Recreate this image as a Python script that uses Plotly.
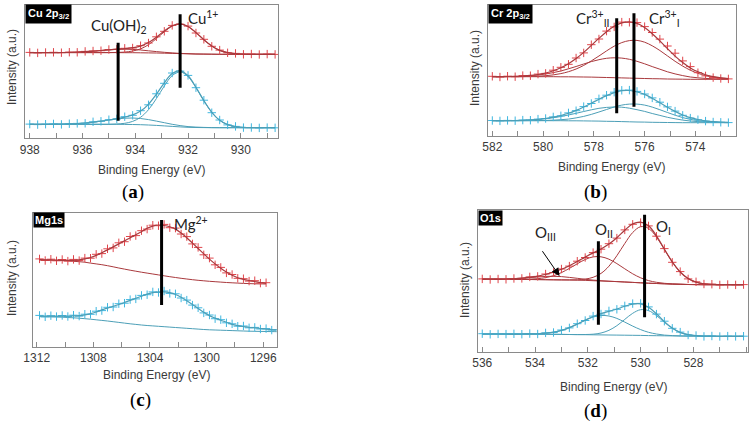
import numpy as np
import plotly.graph_objects as go

W, H = 755, 423

# ---------------- (a) Cu 2p3/2 ----------------
CU_BE = [938.0, 937.7, 937.4, 937.1, 936.8, 936.5, 936.2, 935.9, 935.6, 935.3, 935.0,
         934.7, 934.4, 934.1, 933.8, 933.5, 933.2, 932.9, 932.6, 932.3, 932.0, 931.7,
         931.4, 931.1, 930.8, 930.5, 930.2, 929.9, 929.6, 929.3, 929.0, 928.7]
CU_RED_DATA = [85.9, 85.4, 85.8, 86.0, 85.6, 86.1, 86.0, 86.9, 87.3, 87.6, 88.8, 89.0, 90.0,
               90.3, 92.6, 95.3, 101.5, 107.0, 112.9, 114.1, 112.2, 105.3, 99.0, 92.0, 88.2,
               85.5, 84.9, 84.0, 84.3, 83.8, 84.2, 83.9]
CU_RED_FIT = [85.7, 85.7, 85.7, 85.7, 85.8, 85.9, 86.2, 86.6, 87.1, 87.8, 88.5, 89.2, 89.7,
              90.6, 92.2, 95.7, 101.1, 107.4, 112.6, 114.4, 111.8, 105.7, 98.6, 92.3, 87.9,
              85.7, 84.6, 84.2, 84.0, 84.0, 84.0, 84.0]
CU_RED_BG = [85.7] * 11 + [85.7, 85.6, 85.6, 85.5, 85.4, 85.3, 85.1, 84.9, 84.7, 84.5, 84.3,
                          84.2, 84.1] + [84.0] * 8
CU_RED_CU1 = [0] * 11 + [0.2, 0.6, 1.7, 3.9, 8.2, 14.4, 21.4, 27.2, 29.5, 27.2, 21.4, 14.4,
                         8.2, 3.9, 1.7, 0.6, 0.2, 0, 0, 0, 0]
CU_RED_OH = [0, 0, 0, 0, 0.1, 0.2, 0.5, 0.9, 1.4, 2.1, 2.8, 3.3, 3.5, 3.3, 2.8, 2.1, 1.4, 0.9,
             0.5, 0.2, 0.1] + [0] * 11
CU_BLUE_DATA = [14.2, 13.7, 14.1, 14.4, 13.9, 14.6, 14.9, 15.0, 16.5, 17.0, 18.6, 19.4, 21.6,
                23.0, 27.6, 33.5, 44.5, 55.0, 65.3, 67.2, 62.9, 50.6, 38.1, 25.6, 18.3, 13.4,
                11.9, 10.7, 10.8, 10.4, 10.7, 10.5]
CU_BLUE_FIT = [14.0, 14.0, 14.0, 14.1, 14.2, 14.4, 14.7, 15.3, 16.1, 17.2, 18.3, 19.7, 21.2,
               23.4, 27.2, 34.0, 44.0, 55.5, 64.8, 67.7, 62.5, 51.1, 37.7, 26.0, 18.0, 13.7,
               11.7, 10.9, 10.6, 10.6, 10.6, 10.6]
CU_BLUE_BG = [14.0] * 12 + [13.9, 13.8, 13.6, 13.3, 12.9, 12.4, 11.9, 11.4, 11.0, 10.8,
                           10.7] + [10.6] * 9
CU_BLUE_CU1 = [0] * 11 + [0.3, 1.1, 3.1, 7.4, 15.3, 26.8, 39.9, 50.8, 55.0, 50.8, 39.9, 26.8,
                          15.3, 7.4, 3.1, 1.1, 0.3, 0, 0, 0, 0]
CU_BLUE_OH = [0, 0, 0, 0.1, 0.2, 0.4, 0.7, 1.3, 2.1, 3.2, 4.3, 5.4, 6.2, 6.5, 6.2, 5.4, 4.3,
              3.2, 2.1, 1.3, 0.7, 0.4, 0.2, 0.1] + [0] * 8
CU_MARK_BE = [934.65, 932.3]
CU_MARK_LO = [17.6, 50.6]
CU_MARK_HI = [95.6, 124.0]

# ---------------- (b) Cr 2p3/2 ----------------
CR_BE = [582.0, 581.7, 581.4, 581.1, 580.8, 580.5, 580.2, 579.9, 579.6, 579.3, 579.0, 578.7,
         578.4, 578.1, 577.8, 577.5, 577.2, 576.9, 576.6, 576.3, 576.0, 575.7, 575.4, 575.1,
         574.8, 574.5, 574.2, 573.9, 573.6, 573.3, 573.0, 572.7]
CR_RED_DATA = [59.2, 58.5, 59.3, 58.8, 59.9, 59.8, 61.4, 62.1, 65.3, 68.2, 71.2, 77.5, 82.6,
               90.8, 96.5, 104.4, 108.6, 113.4, 113.2, 112.9, 108.9, 103.0, 96.4, 89.5, 82.3,
               74.6, 68.9, 62.8, 59.6, 57.9, 57.0, 56.6]
CR_RED_FIT = [58.8, 58.9, 59.0, 59.1, 59.5, 60.1, 61.0, 62.5, 64.7, 67.7, 71.8, 76.9, 83.1,
              90.1, 97.1, 103.8, 109.2, 112.7, 113.7, 112.1, 108.0, 101.8, 94.6, 86.8, 79.4,
              73.0, 67.6, 63.7, 60.8, 58.9, 57.7, 57.0]
CR_RED_BG = [58.8] * 9 + [58.7, 58.7, 58.6, 58.5, 58.4, 58.2, 58.0, 57.8, 57.6, 57.4, 57.2,
                         57.0, 56.8, 56.7, 56.5, 56.4, 56.3] + [56.2] * 6
CR_RED_I = [0, 0, 0, 0, 0.1, 0.3, 0.5, 1.0, 1.8, 3.2, 5.1, 7.9, 11.6, 16.2, 21.3, 26.6, 31.5,
            35.3, 37.5, 37.9, 36.3, 32.9, 28.3, 23.1, 17.8, 13.1, 9.1, 6.0, 3.7, 2.2, 1.2, 0.7]
CR_RED_II = [0, 0.1, 0.2, 0.3, 0.6, 1.0, 1.7, 2.7, 4.1, 5.8, 8.0, 10.4, 13.0, 15.5, 17.6, 19.2,
             19.9, 19.8, 18.8, 17.0, 14.7, 12.1, 9.6, 7.2, 5.2, 3.6, 2.3, 1.5, 0.9, 0.5, 0.3, 0.1]
CR_BLUE_DATA = [15.0, 14.6, 15.1, 14.8, 15.4, 15.3, 16.4, 17.0, 18.6, 19.7, 22.6, 24.8, 28.9,
                32.0, 36.7, 40.3, 43.3, 45.2, 45.4, 44.1, 41.5, 37.6, 33.3, 28.6, 24.4, 20.2,
                17.4, 15.8, 14.4, 13.5, 13.2, 12.9]
CR_BLUE_FIT = [14.8, 14.9, 14.9, 15.0, 15.2, 15.6, 16.1, 17.1, 18.3, 20.0, 22.2, 25.1, 28.5,
               32.3, 36.3, 39.9, 42.9, 44.8, 45.0, 43.7, 41.1, 37.2, 32.8, 28.2, 24.1, 20.5,
               17.8, 16.0, 14.7, 13.8, 13.3, 13.1]
CR_BLUE_BG = [14.8] * 10 + [14.7, 14.7, 14.6, 14.5, 14.4, 14.2, 14.1, 13.9, 13.7, 13.5, 13.4,
                           13.2, 13.1, 13.0, 12.9] + [12.8] * 7
CR_BLUE_I = [0, 0, 0, 0, 0, 0.1, 0.1, 0.3, 0.5, 1.0, 1.7, 2.9, 4.5, 6.6, 9.1, 11.8, 14.4, 16.5,
             17.7, 17.9, 17.0, 15.2, 12.7, 10.0, 7.4, 5.1, 3.3, 2.1, 1.2, 0.6, 0.3, 0.2]
CR_BLUE_II = [0, 0.1, 0.1, 0.2, 0.4, 0.7, 1.2, 2.0, 3.0, 4.2, 5.8, 7.5, 9.4, 11.2, 12.8, 13.9,
              14.4, 14.4, 13.6, 12.3, 10.7, 8.8, 7.0, 5.2, 3.8, 2.6, 1.7, 1.1, 0.7, 0.4, 0.2, 0.1]
CR_MARK_BE = [577.1, 576.42]
CR_MARK_LO = [22.2, 28.8]
CR_MARK_HI = [117.2, 122.2]

# ---------------- (c) Mg1s ----------------
MG_BE = [1311.8, 1311.4, 1311.0, 1310.6, 1310.2, 1309.8, 1309.4, 1309.0, 1308.6, 1308.2,
         1307.8, 1307.4, 1307.0, 1306.6, 1306.2, 1305.8, 1305.4, 1305.0, 1304.6, 1304.2,
         1303.8, 1303.4, 1303.0, 1302.6, 1302.2, 1301.8, 1301.4, 1301.0, 1300.6, 1300.2,
         1299.8, 1299.4, 1299.0, 1298.6, 1298.2, 1297.8, 1297.4, 1297.0, 1296.6, 1296.2,
         1295.8, 1295.4, 1295.0]
MG_RED_DATA = [87.8, 86.2, 87.5, 85.9, 87.2, 85.6, 87.3, 86.1, 88.6, 88.5, 92.4, 93.1, 97.9,
               98.8, 103.9, 105.0, 110.2, 111.1, 116.0, 117.6, 121.5, 121.0, 122.3, 119.0,
               118.6, 112.7, 110.1, 102.8, 99.3, 91.9, 88.6, 81.9, 79.3, 73.8, 72.2, 68.4,
               68.0, 65.6, 66.0, 63.6, 64.0]
MG_RED_FIT = [87.0, 86.9, 86.8, 86.6, 86.4, 86.3, 86.4, 86.9, 87.8, 89.2, 91.3, 94.0, 96.8,
              99.8, 102.8, 105.8, 109.0, 112.0, 115.0, 118.4, 120.6, 121.7, 121.2, 119.9,
              117.6, 113.6, 109.0, 103.6, 98.2, 92.8, 87.6, 82.8, 78.4, 74.6, 71.4, 69.0,
              67.4, 66.2, 65.2, 64.2, 63.4]
MG_RED_BG = [86.7, 86.6, 86.5, 86.3, 86.1, 85.8, 85.4, 85.0, 84.5, 83.6, 82.8, 82.0, 81.0,
             79.9, 78.7, 77.6, 76.5, 75.5, 74.5, 73.6, 72.7, 71.8, 70.9, 70.0, 69.2, 68.4,
             67.7, 67.0, 66.4, 65.9, 65.4, 65.0, 64.6, 64.2, 63.9, 63.6, 63.3, 63.1, 62.9,
             62.8, 62.7]
MG_BLUE_DATA = [31.3, 29.9, 31.0, 30.1, 31.2, 30.2, 31.5, 30.6, 32.5, 32.4, 35.5, 36.1, 39.4,
                39.7, 43.0, 43.5, 47.1, 47.8, 51.3, 52.0, 54.8, 54.2, 55.7, 53.3, 52.9, 48.7,
                46.6, 41.6, 38.9, 33.8, 31.7, 28.0, 27.0, 23.9, 22.9, 20.5, 20.7, 18.9, 19.3,
                17.7, 18.1, 16.6, 17.0]
MG_BLUE_FIT = [30.6, 30.6, 30.6, 30.6, 30.6, 30.7, 30.8, 31.1, 31.8, 33.0, 34.7, 36.8, 38.6,
               40.4, 42.2, 44.2, 46.3, 48.4, 50.5, 52.6, 54.0, 54.8, 54.9, 54.0, 52.2, 49.4,
               46.0, 42.3, 38.3, 34.4, 31.1, 28.6, 26.4, 24.5, 22.3, 21.0, 20.1, 19.4, 18.8,
               18.2, 17.6, 17.1, 16.7]
MG_BLUE_BG = [30.0, 29.9, 29.8, 29.7, 29.5, 29.2, 28.9, 28.5, 28.0, 27.5, 26.9, 26.3, 25.7,
              25.0, 24.3, 23.6, 22.9, 22.3, 21.7, 21.2, 20.8, 20.4, 20.0, 19.6, 19.2, 18.8,
              18.4, 18.0, 17.6, 17.2, 16.9, 16.7, 16.5, 16.3, 16.1, 15.9, 15.7, 15.5, 15.4,
              15.3, 15.2, 15.1, 15.0]
MG_MARK_BE = [1303.18]
MG_MARK_LO = [41.7]
MG_MARK_HI = [126.7]

# ---------------- (d) O1s ----------------
O_BE = [536.0, 535.7, 535.4, 535.1, 534.8, 534.5, 534.2, 533.9, 533.6, 533.3, 533.0, 532.7,
        532.4, 532.1, 531.8, 531.5, 531.2, 530.9, 530.6, 530.3, 530.0, 529.7, 529.4, 529.1,
        528.8, 528.5, 528.2, 527.9, 527.6, 527.3, 527.0, 526.7, 526.4, 526.1]
O_RED_DATA = [72.6, 72.0, 72.5, 72.2, 73.0, 73.1, 74.6, 75.1, 77.5, 79.0, 82.5, 85.4, 90.3,
              94.0, 98.9, 102.3, 107.8, 113.4, 121.6, 127.2, 128.9, 125.6, 115.3, 102.9, 89.2,
              79.9, 72.6, 69.7, 67.5, 67.3, 66.6, 67.0, 66.6, 66.9]
O_RED_FIT = [72.3, 72.3, 72.3, 72.5, 72.7, 73.3, 74.3, 75.4, 77.2, 79.3, 82.2, 85.8, 90.0,
             94.4, 98.6, 102.6, 107.5, 113.8, 121.2, 127.6, 129.3, 125.7, 115.7, 102.5, 89.6,
             79.5, 72.9, 69.4, 67.7, 67.1, 66.9, 66.8, 66.8, 66.8]
O_RED_BG = [72.3, 72.3, 72.2, 72.2, 72.1, 72.1, 72.0, 71.9, 71.8, 71.7, 71.6, 71.5, 71.3,
            71.1, 70.8, 70.5, 70.2, 69.9, 69.5, 69.1, 68.7, 68.3, 68.0, 67.7, 67.4, 67.2,
            67.0, 66.9, 66.8, 66.8, 66.8, 66.8, 66.8, 66.8]
O_RED_I = [0] * 11 + [0.1, 0.4, 1.3, 3.4, 7.6, 15.1, 25.9, 38.5, 49.9, 56.1, 54.8, 46.5, 34.3,
                      22.0, 12.2, 5.9, 2.5, 0.9, 0.3, 0.1, 0, 0, 0]
O_RED_II = [0, 0, 0, 0, 0, 0.1, 0.4, 0.9, 2.1, 4.1, 7.3, 11.6, 16.4, 20.9, 23.8, 24.2, 22.1,
            18.0, 13.2, 8.6, 5.0, 2.6, 1.2, 0.5, 0.2, 0.1] + [0] * 8
O_RED_III = [0, 0, 0.1, 0.3, 0.6, 1.1, 1.9, 2.6, 3.3, 3.5, 3.3, 2.6, 1.9, 1.1, 0.6, 0.3,
             0.1] + [0] * 17
O_BLUE_DATA = [17.8, 17.2, 17.6, 17.4, 17.7, 17.3, 17.9, 17.5, 18.6, 19.0, 21.5, 23.6, 27.8,
               31.0, 35.4, 37.5, 40.6, 42.2, 45.6, 47.9, 48.1, 44.6, 37.4, 30.3, 23.2, 19.4,
               16.5, 16.0, 15.1, 15.5, 15.0, 15.4, 15.1, 15.3]
O_BLUE_FIT = [17.5, 17.5, 17.5, 17.5, 17.4, 17.5, 17.6, 17.7, 18.3, 19.3, 21.1, 23.9, 27.4,
              31.4, 35.0, 37.9, 40.2, 42.5, 45.2, 47.4, 47.6, 44.2, 37.7, 29.9, 23.5, 19.1,
              16.8, 15.8, 15.4, 15.3, 15.2, 15.2, 15.2, 15.2]
O_BLUE_BG = [17.5, 17.5, 17.5, 17.5, 17.4, 17.4, 17.4, 17.3, 17.3, 17.2, 17.1, 17.0, 16.9,
             16.8, 16.7, 16.6, 16.5, 16.4, 16.3, 16.2, 16.1, 15.9, 15.8, 15.7, 15.6, 15.5,
             15.4, 15.4, 15.3, 15.3, 15.2, 15.2, 15.2, 15.2]
O_BLUE_I = [0] * 13 + [0.2, 0.6, 1.9, 4.7, 9.4, 15.8, 22.0, 25.7, 25.0, 20.2, 13.5, 7.6, 3.5,
                       1.4, 0.4, 0.1, 0, 0, 0, 0, 0]
O_BLUE_II = [0, 0, 0, 0, 0, 0.1, 0.2, 0.4, 1.0, 2.1, 4.0, 6.9, 10.5, 14.4, 17.7, 19.4, 19.0,
             16.7, 13.1, 9.2, 5.8, 3.3, 1.7, 0.7, 0.3, 0.1] + [0] * 8
O_MARK_BE = [531.6, 529.85]
O_MARK_LO = [26.8, 34.2]
O_MARK_HI = [110.2, 136.8]

RED_PTS, RED_LINE = "#e0454b", "#a9393d"
BLUE_PTS, BLUE_LINE = "#3fb7e0", "#4c9fb7"
FRAME = "#8a8a8a"
TXT = "#3a3a3a"


def px_x(p):
    return p / W


def px_y(p):
    return 1 - p / H


fig = go.Figure()


def add_spectrum(n, be, data, fit, bg, comps, pts_color, line_color):
    xa, ya = f"x{n}", f"y{n}"
    be = np.array(be)
    bg = np.array(bg)
    k = len(bg)
    for comp in comps:
        fig.add_trace(go.Scatter(x=be[:k], y=bg + np.array(comp), mode="lines",
                                 line=dict(color=line_color, width=1, shape="spline"),
                                 xaxis=xa, yaxis=ya, showlegend=False))
    fig.add_trace(go.Scatter(x=be[:k], y=bg, mode="lines",
                             line=dict(color=line_color, width=1, shape="spline"),
                             xaxis=xa, yaxis=ya, showlegend=False))
    fig.add_trace(go.Scatter(x=be[:len(data)], y=data, mode="markers",
                             marker=dict(symbol="cross-thin", size=6,
                                         line=dict(color=pts_color, width=1)),
                             xaxis=xa, yaxis=ya, showlegend=False))
    fig.add_trace(go.Scatter(x=be[:len(fit)], y=fit, mode="lines",
                             line=dict(color=line_color, width=1.2, shape="spline"),
                             xaxis=xa, yaxis=ya, showlegend=False))


def add_marks(n, be, lo, hi):
    for b, l, h in zip(be, lo, hi):
        fig.add_trace(go.Scatter(x=[b, b], y=[l, h], mode="lines",
                                 line=dict(color="black", width=3),
                                 xaxis=f"x{n}", yaxis=f"y{n}", showlegend=False))


add_spectrum(1, CU_BE, CU_RED_DATA, CU_RED_FIT, CU_RED_BG, [CU_RED_CU1, CU_RED_OH],
             RED_PTS, RED_LINE)
add_spectrum(1, CU_BE, CU_BLUE_DATA, CU_BLUE_FIT, CU_BLUE_BG, [CU_BLUE_CU1, CU_BLUE_OH],
             BLUE_PTS, BLUE_LINE)
add_marks(1, CU_MARK_BE, CU_MARK_LO, CU_MARK_HI)

add_spectrum(2, CR_BE, CR_RED_DATA, CR_RED_FIT, CR_RED_BG, [CR_RED_I, CR_RED_II],
             RED_PTS, RED_LINE)
add_spectrum(2, CR_BE, CR_BLUE_DATA, CR_BLUE_FIT, CR_BLUE_BG, [CR_BLUE_I, CR_BLUE_II],
             BLUE_PTS, BLUE_LINE)
add_marks(2, CR_MARK_BE, CR_MARK_LO, CR_MARK_HI)

add_spectrum(3, MG_BE, MG_RED_DATA, MG_RED_FIT, MG_RED_BG, [], RED_PTS, RED_LINE)
add_spectrum(3, MG_BE, MG_BLUE_DATA, MG_BLUE_FIT, MG_BLUE_BG, [], BLUE_PTS, BLUE_LINE)
add_marks(3, MG_MARK_BE, MG_MARK_LO, MG_MARK_HI)

add_spectrum(4, O_BE, O_RED_DATA, O_RED_FIT, O_RED_BG, [O_RED_I, O_RED_II, O_RED_III],
             RED_PTS, RED_LINE)
add_spectrum(4, O_BE, O_BLUE_DATA, O_BLUE_FIT, O_BLUE_BG, [O_BLUE_I, O_BLUE_II],
             BLUE_PTS, BLUE_LINE)
add_marks(4, O_MARK_BE, O_MARK_LO, O_MARK_HI)

# panel frames in pixels: left, right, top, bottom, x range, major/minor tick step
PANELS = {
    1: dict(l=25, r=278, t=5, b=138.3, xr=[938.18, 928.59], dt=2, mt=1, t0=930),
    2: dict(l=487.5, r=735.5, t=4.5, b=135.5, xr=[582.19, 572.42], dt=2, mt=1, t0=574),
    3: dict(l=33.3, r=276.7, t=212.5, b=346.7, xr=[1312.24, 1295.05], dt=4, mt=2, t0=1296),
    4: dict(l=478.3, r=748.3, t=210, b=351.5, xr=[536.15, 525.92], dt=2, mt=1, t0=528),
}

layout = {}
for n, p in PANELS.items():
    sfx = "" if n == 1 else str(n)
    layout[f"xaxis{sfx}"] = dict(
        domain=[px_x(p["l"]), px_x(p["r"])], range=p["xr"], anchor=f"y{n}",
        showgrid=False, zeroline=False, showline=True, mirror=True,
        linecolor=FRAME, linewidth=1, ticks="inside", ticklen=5, tickcolor=FRAME,
        dtick=p["dt"], tick0=p["t0"], automargin=False,
        minor=dict(dtick=p["mt"], ticks="inside", ticklen=5, tickcolor=FRAME),
        tickfont=dict(family="Liberation Sans, Arial", size=12, color=TXT),
    )
    layout[f"yaxis{sfx}"] = dict(
        domain=[px_y(p["b"]), px_y(p["t"])], range=[0, p["b"] - p["t"]],
        anchor=f"x{n}", showgrid=False, zeroline=False, showline=True, mirror=True,
        linecolor=FRAME, linewidth=1, ticks="", showticklabels=False, automargin=False,
    )

fig.update_layout(**layout)

ann = []
SANS = "Liberation Sans, Arial"
MID = dict(xanchor="center", yanchor="middle", showarrow=False)
# panel name boxes
for txt, x, y in [("Cu 2p<sub>3/2</sub>", 25, 4.5), ("Cr 2p<sub>3/2</sub>", 487.5, 4),
                  ("Mg1s", 33.3, 212), ("O1s", 478.3, 209.5)]:
    ann.append(dict(text=f"<b>{txt}</b>", xref="paper", yref="paper", x=px_x(x), y=px_y(y),
                    xanchor="left", yanchor="top", showarrow=False, bgcolor="black",
                    borderpad=2 if "2p" in txt else 1,
                    font=dict(family=SANS, size=11, color="white")))
# axis titles and panel letters
for x, y in [(12, 67), (475, 68), (12, 278), (465, 280)]:
    ann.append(dict(text="Intensity (a.u.)", xref="paper", yref="paper", x=px_x(x),
                    y=px_y(y), textangle=-90, font=dict(family=SANS, size=12, color=TXT),
                    **MID))
for x, y in [(151, 170), (611.7, 167), (156.7, 375), (613.3, 386.7)]:
    ann.append(dict(text="Binding Energy (eV)", xref="paper", yref="paper", x=px_x(x),
                    y=px_y(y), font=dict(family=SANS, size=12, color=TXT), **MID))
for lab, x, y in [("a", 133, 192), ("b", 595, 191.7), ("c", 140, 400), ("d", 595, 410.5)]:
    ann.append(dict(text=f"(<b>{lab}</b>)", xref="paper", yref="paper", x=px_x(x),
                    y=px_y(y),
                    font=dict(family="Liberation Serif, Times New Roman", size=19,
                              color="black"), **MID))
# peak labels
PEAK_FONT = dict(family="Lato, Open Sans", size=15, color="#222222")
for n, txt, x, y in [
    (1, "Cu(OH)<sub>2</sub>", 934.62, 112.0), (1, "Cu<sup>1+</sup>", 931.44, 120.5),
    (2, "Cr<sup>3+</sup><sub>II</sub>", 578.04, 116.5), (2, "Cr<sup>3+</sup><sub>I</sub>", 575.2, 116.5),
    (3, "Mg<sup>2+</sup>", 1301.11, 123.0),
    (4, "O<sub>III</sub>", 533.6, 119.0), (4, "O<sub>II</sub>", 531.37, 122.0),
    (4, "O<sub>I</sub>", 529.14, 125.0),
]:
    ann.append(dict(text=txt, xref=f"x{n}", yref=f"y{n}", x=x, y=y, font=PEAK_FONT, **MID))
# O_III pointer arrow
ann.append(dict(text="", xref="x4", yref="y4", axref="x4", ayref="y4", x=533.07, y=75.5,
                ax=533.76, ay=101.8, showarrow=True, arrowhead=2, arrowsize=1.6,
                arrowwidth=1, arrowcolor="black"))

fig.update_layout(
    annotations=ann,
    width=W, height=H,
    margin=dict(l=0, r=0, t=0, b=0),
    plot_bgcolor="white", paper_bgcolor="white",
    showlegend=False,
)

# the page's default 8px body margin would shift the whole figure
fig.write_html("out.html", config={"displayModeBar": False},
               post_script="document.body.style.margin='0';")
